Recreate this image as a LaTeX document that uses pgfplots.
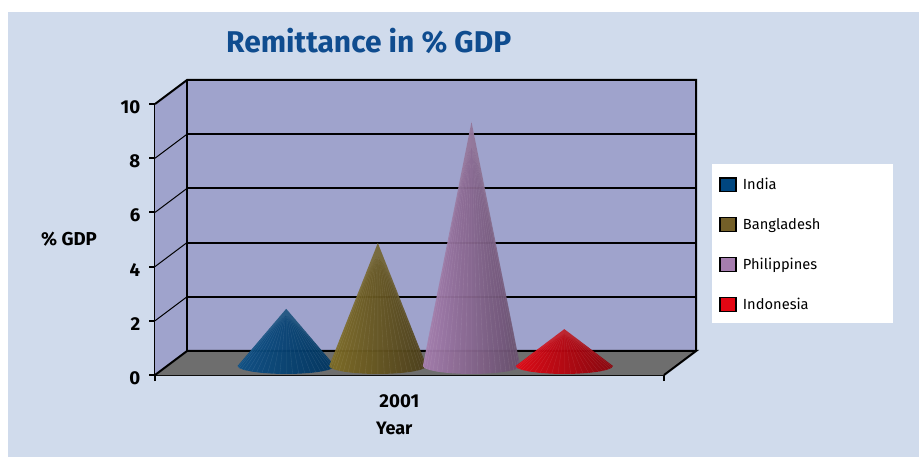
\documentclass[border=0pt]{standalone}
\usepackage{fontspec}
\usepackage{pgfplots}
\usepackage{pgfplotstable}
\pgfplotsset{compat=1.18}
\setmainfont{Fira Sans}

\definecolor{pagebg}{HTML}{D0DBEC}
\definecolor{wall}{HTML}{9FA3CC}
\definecolor{floorgrey}{HTML}{6E6E6E}
\definecolor{titleblue}{HTML}{0F4C8F}
\definecolor{cIndia}{HTML}{00467F}
\definecolor{cBangladesh}{HTML}{735F28}
\definecolor{cPhilippines}{HTML}{A57DAE}
\definecolor{cIndonesia}{HTML}{E30613}

% Positions on the page are given in units of 0.75pt, y measured downward.
\newcommand{\PX}[2]{({#1*0.75pt},{(457-#2)*0.75pt})}
\def\dx{0.346}
\def\dy{0.886}

% Outline of a cone: a = horizontal position on the base, b = depth on the base,
% k = 1 for the apex.
\pgfplotstableread{
a b k
0 0 1
-1 0 0
-0.966 0.259 0
-0.866 0.5 0
-0.707 0.707 0
-0.5 0.866 0
-0.259 0.966 0
0 1 0
0.259 0.966 0
0.5 0.866 0
0.707 0.707 0
0.866 0.5 0
0.966 0.259 0
1 0 0
0 0 1
}\coneoutline

% Ribs on the cone surface, running from the apex to the base rim.
\pgfplotstableread{
a b k
0 0 1
-0.991 0.131 0
0 0 1
-0.966 0.259 0
0 0 1
-0.924 0.383 0
0 0 1
-0.866 0.5 0
0 0 1
-0.793 0.609 0
0 0 1
-0.707 0.707 0
0 0 1
-0.609 0.793 0
0 0 1
-0.5 0.866 0
0 0 1
-0.383 0.924 0
0 0 1
-0.259 0.966 0
0 0 1
-0.131 0.991 0
0 0 1
0 1 0
0 0 1
0.131 0.991 0
0 0 1
0.259 0.966 0
0 0 1
0.383 0.924 0
0 0 1
0.5 0.866 0
0 0 1
0.609 0.793 0
0 0 1
0.707 0.707 0
0 0 1
0.793 0.609 0
0 0 1
0.866 0.5 0
0 0 1
0.924 0.383 0
0 0 1
0.966 0.259 0
0 0 1
0.991 0.131 0
0 0 1
}\coneribs

% #1 x position, #2 value, #3 left, #4 middle, #5 right shading colours
\newcommand{\cone}[5]{%
  \addplot[draw=none,opacity=0.95,left color=#3,middle color=#4,right color=#5,forget plot]
    table[x expr=#1+0.526*\thisrow{a},
          y expr=\thisrow{k}*#2+(1-\thisrow{k})*(-0.11-0.295*\thisrow{b})] {\coneoutline} -- cycle;
  \addplot[white,opacity=0.11,line width=0.25pt,forget plot]
    table[x expr=#1+0.526*\thisrow{a},
          y expr=\thisrow{k}*#2+(1-\thisrow{k})*(-0.11-0.295*\thisrow{b})] {\coneribs};
}

\begin{document}
\begin{tikzpicture}[x=1pt,y=1pt]
  \fill[white] \PX{0}{0} rectangle \PX{919}{457};
  \fill[pagebg] \PX{8}{12} rectangle \PX{919}{457};
  \fill[white] \PX{712}{164} rectangle \PX{893}{323};

  % Chart frame: walls, floor, grid, ticks and labels
  \begin{axis}[
    at={(116.25pt,61.5pt)},anchor=origin,
    scale only axis,width=381.75pt,height=203.25pt,
    xmin=0,xmax=5.5,ymin=0,ymax=10,clip=false,
    axis lines=left,
    axis line style={-,line width=1.5pt,black},
    xtick={0,5.5},xticklabels={,},
    extra x ticks={2.64},extra x tick labels={2001},
    extra x tick style={major tick length=0pt,
      xticklabel style={yshift=-11pt}},
    ytick={0,2,4,6,8,10},
    tick align=outside,
    major tick length=4.5pt,
    tick style={black,line width=1.5pt},
    /pgf/number format/assume math mode=true,
    tick label style={font=\fontsize{14}{16}\selectfont\bfseries,text=black},
    yticklabel style={xshift=-3pt,yshift=-2.2pt},
    ylabel={\% GDP},
    y label style={at={(axis description cs:-0.169,0.5)},rotate=-90,anchor=center,
      font=\fontsize{14}{16}\selectfont\bfseries},
    xlabel={Year},
    x label style={at={(axis description cs:0.47,-0.198)},anchor=center,
      font=\fontsize{13.5}{15}\selectfont\bfseries},
    title={Remittance in \% GDP},
    title style={at={(axis description cs:0.42,1.205)},anchor=center,
      font=\fontsize{22.5}{26}\selectfont\bfseries,text=titleblue},
    legend style={at={(axis description cs:1.108,0.481)},anchor=west,
      draw=none,fill=none,inner sep=0pt,
      font=\fontsize{11}{12}\selectfont,
      row sep=16pt},
    legend cell align=left,
    legend image code/.code={
      \draw[#1,draw=black,line width=1.1pt] (0pt,-5.2pt) rectangle (12pt,5.2pt);
      \path (15pt,0pt);
    },
  ]
    \fill[wall] (axis cs:\dx,\dy) rectangle (axis cs:5.5+\dx,10+\dy);
    \fill[wall] (axis cs:0,0) -- (axis cs:0,10) -- (axis cs:\dx,10+\dy) -- (axis cs:\dx,\dy) -- cycle;
    \fill[floorgrey] (axis cs:0,0) -- (axis cs:5.5,0) -- (axis cs:5.5+\dx,\dy) -- (axis cs:\dx,\dy) -- cycle;
    \pgfplotsinvokeforeach{2,4,6,8}{
      \draw[black,line width=0.75pt] (axis cs:0,#1) -- (axis cs:\dx,#1+\dy);
      \draw[black,line width=1.5pt] (axis cs:\dx,#1+\dy) -- (axis cs:5.5+\dx,#1+\dy);
    }
    \draw[black,line width=1.5pt,line join=miter]
      (axis cs:0,0) -- (axis cs:\dx,\dy) -- (axis cs:5.5+\dx,\dy) -- (axis cs:5.5,0);
    \draw[black,line width=1.5pt,line join=miter]
      (axis cs:0,10) -- (axis cs:\dx,10+\dy) -- (axis cs:5.5+\dx,10+\dy) -- (axis cs:5.5+\dx,\dy);
    \draw[black,line width=1.5pt] (axis cs:\dx,\dy) -- (axis cs:\dx,10+\dy);

    \addlegendimage{fill=cIndia}
    \addlegendentry{India}
    \addlegendimage{fill=cBangladesh}
    \addlegendentry{Bangladesh}
    \addlegendimage{fill=cPhilippines}
    \addlegendentry{Philippines}
    \addlegendimage{fill=cIndonesia}
    \addlegendentry{Indonesia}
  \end{axis}

  % Cones stand on the middle plane of the floor
  \begin{axis}[
    at={(128.25pt,70.5pt)},anchor=origin,
    scale only axis,width=381.75pt,height=203.25pt,
    xmin=0,xmax=5.5,ymin=0,ymax=10,clip=false,
    hide axis,
  ]
    \cone{1.245}{2.0}{cIndia!95!white}{cIndia}{cIndia!75!black}
    \cone{2.235}{4.43}{cBangladesh!92!yellow}{cBangladesh}{cBangladesh!65!black}
    \cone{3.247}{8.9}{cPhilippines}{cPhilippines!92!black}{cPhilippines!62!black}
    \cone{4.25}{1.25}{cIndonesia}{cIndonesia!92!black}{cIndonesia!60!black}
  \end{axis}
\end{tikzpicture}
\end{document}
